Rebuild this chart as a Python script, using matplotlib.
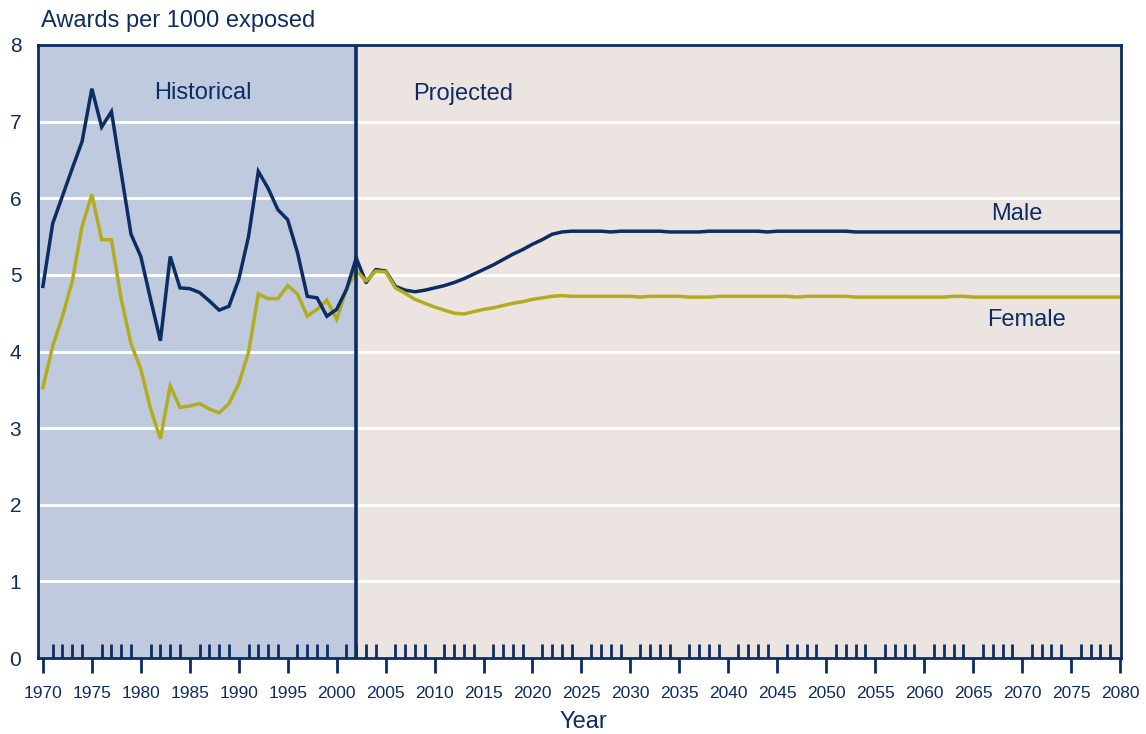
import matplotlib
matplotlib.use("Agg")
import matplotlib.pyplot as plt
from matplotlib.ticker import MultipleLocator

plt.rcParams['font.family'] = ['Liberation Sans', 'DejaVu Sans']

hist_years = list(range(1970, 2003))
male_hist = [4.85, 5.67, 6.03, 6.39, 6.74, 7.43, 6.93, 7.13, 6.33, 5.53, 5.24,
             4.68, 4.14, 5.24, 4.83, 4.82, 4.77, 4.66, 4.54, 4.59, 4.94,
             5.50, 6.35, 6.13, 5.85, 5.72, 5.29, 4.72, 4.70, 4.46, 4.55,
             4.81, 5.22]
female_hist = [3.53, 4.07, 4.46, 4.92, 5.63, 6.05, 5.46, 5.46, 4.68, 4.10, 3.77,
               3.25, 2.86, 3.55, 3.27, 3.29, 3.32, 3.25, 3.20, 3.32, 3.58,
               3.99, 4.75, 4.69, 4.69, 4.86, 4.75, 4.46, 4.55, 4.67, 4.42,
               4.81, 5.06]

proj_years = list(range(2002, 2081))
male_proj_head = [5.22, 4.90, 5.07, 5.05, 4.85, 4.80, 4.78, 4.80, 4.83, 4.86,
                  4.90, 4.95, 5.01, 5.07, 5.13, 5.20, 5.27, 5.33, 5.40, 5.46,
                  5.53, 5.56, 5.57]
female_proj_head = [5.06, 4.92, 5.05, 5.04, 4.83, 4.76, 4.68, 4.63, 4.58, 4.54,
                    4.50, 4.49, 4.52, 4.55, 4.57, 4.60, 4.63, 4.65, 4.68, 4.70,
                    4.72, 4.73, 4.72]
male_proj_tail = [5.57, 5.57, 5.57, 5.56, 5.57, 5.57, 5.57, 5.57, 5.57, 5.56,
                  5.56, 5.56, 5.56, 5.57, 5.57, 5.57, 5.57, 5.57, 5.57, 5.56,
                  5.57, 5.57, 5.57, 5.57, 5.57, 5.57, 5.57, 5.57, 5.56, 5.56,
                  5.56, 5.56, 5.56, 5.56, 5.56, 5.56, 5.56, 5.56, 5.56, 5.56,
                  5.56, 5.56, 5.56, 5.56, 5.56, 5.56, 5.56, 5.56, 5.56, 5.56,
                  5.56, 5.56, 5.56, 5.56, 5.56, 5.56]
female_proj_tail = [4.72, 4.72, 4.72, 4.72, 4.72, 4.72, 4.71, 4.72, 4.72, 4.72,
                    4.72, 4.71, 4.71, 4.71, 4.72, 4.72, 4.72, 4.72, 4.72, 4.72,
                    4.72, 4.72, 4.71, 4.72, 4.72, 4.72, 4.72, 4.72, 4.71, 4.71,
                    4.71, 4.71, 4.71, 4.71, 4.71, 4.71, 4.71, 4.71, 4.72, 4.72,
                    4.71, 4.71, 4.71, 4.71, 4.71, 4.71, 4.71, 4.71, 4.71, 4.71,
                    4.71, 4.71, 4.71, 4.71, 4.71, 4.71]
male_proj = male_proj_head + male_proj_tail
female_proj = female_proj_head + female_proj_tail

xticks = list(range(1970, 2081, 5))
yticks = list(range(0, 9))

NAVY = '#0C2D63'
OLIVE = '#B3AC1F'
HIST_BG = '#BFCADF'
PROJ_BG = '#EBE4E1'

fig = plt.figure(figsize=(11.46, 7.34), dpi=100)
ax = fig.add_axes([38/1146, 1-658/734, (1121-38)/1146, (658-45)/734])

x0, x1 = 1969.5, 2080.1
split = 2002
ax.set_xlim(x0, x1)
ax.set_ylim(0, 8)
ax.axvspan(x0, split, color=HIST_BG, zorder=0)
ax.axvspan(split, x1, color=PROJ_BG, zorder=0)
for y in yticks[1:-1]:
    ax.axhline(y, color='white', lw=2, zorder=1)

ax.plot(hist_years, female_hist, color=OLIVE, lw=2.5, zorder=3, solid_joinstyle='miter')
ax.plot(hist_years, male_hist, color=NAVY, lw=2.5, zorder=3, solid_joinstyle='miter')
ax.plot(proj_years, male_proj, color=NAVY, lw=2.5, zorder=3)
ax.plot(proj_years, female_proj, color=OLIVE, lw=2.5, zorder=3)
ax.axvline(split, color=NAVY, lw=2.6, zorder=4)

for s in ax.spines.values():
    s.set_color(NAVY)
    s.set_linewidth(2)
    s.set_zorder(5)

ax.set_xticks(xticks)
ax.set_yticks(yticks)
ax.xaxis.set_minor_locator(MultipleLocator(1))
ax.tick_params(axis='x', which='major', direction='out', length=11, width=2,
               color=NAVY, labelcolor=NAVY, labelsize=12.5, pad=9)
ax.tick_params(axis='x', which='minor', direction='in', length=10, width=2,
               color=NAVY, bottom=True)
ax.tick_params(axis='y', which='major', length=0, labelcolor=NAVY, labelsize=15, pad=12)

ax.text(1969.85, 8.31, 'Awards per 1000 exposed', color=NAVY, fontsize=17,
        ha='left', va='center', clip_on=False)
fig.text(583/1146, 1-722/734, 'Year', color=NAVY, fontsize=17, ha='center', va='center')
ax.text(1986.35, 7.37, 'Historical', color=NAVY, fontsize=17, ha='center', va='center')
ax.text(2012.95, 7.36, 'Projected', color=NAVY, fontsize=17, ha='center', va='center')
ax.text(2069.5, 5.80, 'Male', color=NAVY, fontsize=17, ha='center', va='center')
ax.text(2070.4, 4.41, 'Female', color=NAVY, fontsize=17, ha='center', va='center')

fig.savefig('out.png', dpi=100)
